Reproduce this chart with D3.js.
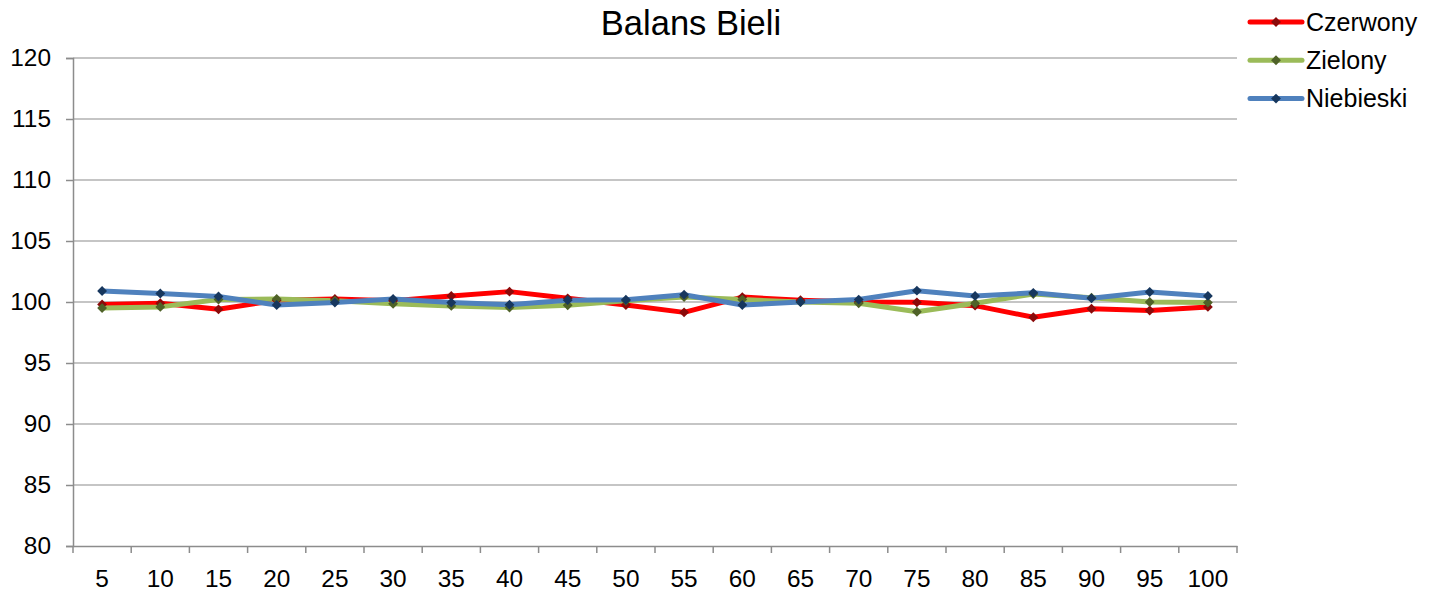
<!DOCTYPE html>
<html>
<head>
<meta charset="utf-8">
<script src="https://cdn.jsdelivr.net/npm/d3@7"></script>
<style>
  body { margin: 0; background: #fff; }
  svg { display: block; font-family: "Liberation Sans", Arial, sans-serif; }
</style>
</head>
<body>
<div id="chart"></div>
<script>
// data
const categories = [5, 10, 15, 20, 25, 30, 35, 40, 45, 50, 55, 60, 65, 70, 75, 80, 85, 90, 95, 100];
const czerwony = [99.8, 99.9, 99.4, 100.15, 100.25, 100.1, 100.5, 100.85, 100.3, 99.75, 99.15, 100.4, 100.15, 100.0, 99.97, 99.7, 98.75, 99.45, 99.3, 99.6];
const zielony = [99.5, 99.6, 100.2, 100.25, 100.1, 99.85, 99.68, 99.55, 99.73, 100.1, 100.4, 100.2, 100.0, 99.9, 99.2, 99.9, 100.65, 100.35, 100.0, 99.95];
const niebieski = [100.9, 100.7, 100.45, 99.75, 99.95, 100.25, 99.95, 99.78, 100.15, 100.18, 100.6, 99.75, 100.0, 100.2, 100.93, 100.5, 100.75, 100.3, 100.82, 100.5];
const yTicks = [80, 85, 90, 95, 100, 105, 110, 115, 120];

const series = [
  {name: 'Czerwony', values: czerwony, color: '#ff0000', marker: '#8b0a0a'},
  {name: 'Zielony', values: zielony, color: '#9bbb59', marker: '#4f6228'},
  {name: 'Niebieski', values: niebieski, color: '#4f81bd', marker: '#17375e'}
];

const W = 1433, H = 592;
const plotLeft = 73, plotRight = 1237, plotTop = 58, plotBottom = 546;

const svg = d3.select('#chart').append('svg').attr('width', W).attr('height', H);

const x = d3.scaleBand().domain(categories).range([plotLeft, plotRight]).padding(0);
const y = d3.scaleLinear().domain([80, 120]).range([plotBottom, plotTop]);
const cx = d => x(d) + x.bandwidth() / 2;

// gridlines
svg.append('g').selectAll('line').data(yTicks.filter(t => t > 80)).enter().append('line')
  .attr('x1', plotLeft).attr('x2', plotRight)
  .attr('y1', d => y(d)).attr('y2', d => y(d))
  .attr('stroke', '#8c8c8c').attr('stroke-width', 1.2);

// y axis
const yAxis = svg.append('g').attr('transform', `translate(${plotLeft},0)`)
  .call(d3.axisLeft(y).tickValues(yTicks).tickSize(7).tickPadding(15));
yAxis.select('.domain').attr('stroke', '#8c8c8c').attr('stroke-width', 1.5);
yAxis.selectAll('.tick line').attr('stroke', '#8c8c8c').attr('stroke-width', 1.5);
yAxis.selectAll('text').attr('font-size', '24.4px').attr('fill', '#000')
  .attr('font-family', '"Liberation Sans", Arial, sans-serif');

// x axis
const xAxis = svg.append('g').attr('transform', `translate(0,${plotBottom})`)
  .call(d3.axisBottom(x).tickSize(0).tickPadding(24));
xAxis.select('.domain').attr('stroke', '#8c8c8c').attr('stroke-width', 1.5);
xAxis.selectAll('text').attr('font-size', '24.4px').attr('fill', '#000')
  .attr('font-family', '"Liberation Sans", Arial, sans-serif');
xAxis.selectAll('.bound').data(categories.map(c => x(c)).concat([x.range()[1]])).enter().append('line')
  .attr('class', 'bound')
  .attr('x1', d => d).attr('x2', d => d).attr('y1', 0).attr('y2', 7)
  .attr('stroke', '#8c8c8c').attr('stroke-width', 1.5);

// lines + markers
const line = d3.line().x((d, i) => cx(categories[i])).y(d => y(d));
const diamond = d3.symbol().type(d3.symbolDiamond2).size(62);

series.forEach(s => {
  svg.append('path').datum(s.values)
    .attr('fill', 'none').attr('stroke', s.color).attr('stroke-width', 5)
    .attr('stroke-linejoin', 'round').attr('d', line);
});
series.forEach(s => {
  svg.append('g').selectAll('path').data(s.values).enter().append('path')
    .attr('d', diamond)
    .attr('transform', (d, i) => `translate(${cx(categories[i])},${y(d)})`)
    .attr('fill', s.marker);
});

// title
svg.append('text').attr('x', 691).attr('y', 35).attr('text-anchor', 'middle')
  .attr('font-size', '34.5px').attr('fill', '#000').text('Balans Bieli');

// legend
const legend = svg.append('g');
series.forEach((s, i) => {
  const ly = 22 + i * 38.3;
  legend.append('line').attr('x1', 1250).attr('x2', 1302).attr('y1', ly).attr('y2', ly)
    .attr('stroke', s.color).attr('stroke-width', 5).attr('stroke-linecap', 'round');
  legend.append('path').attr('d', diamond).attr('transform', `translate(1276,${ly})`).attr('fill', s.marker);
  legend.append('text').attr('x', 1306).attr('y', ly).attr('dy', '0.35em')
    .attr('font-size', '25px').attr('fill', '#000').text(s.name);
});
</script>
</body>
</html>
